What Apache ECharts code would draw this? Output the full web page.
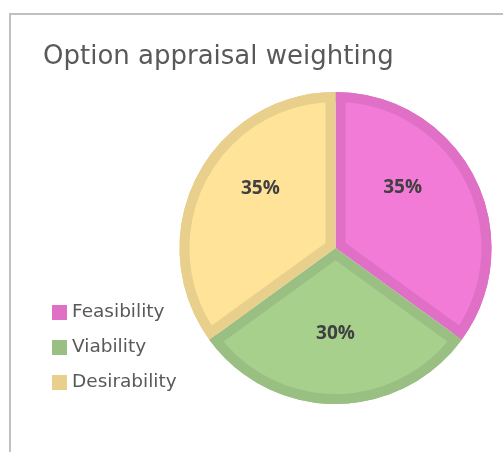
<!DOCTYPE html>
<html>
<head>
<meta charset="utf-8">
<script src="https://cdn.jsdelivr.net/npm/echarts@6/dist/echarts.min.js"></script>
<style>
html,body{margin:0;padding:0;background:#fff;}
#chart{width:503px;height:452px;}
</style>
</head>
<body>
<div id="chart"></div>
<script>
// ---- data ----
const categories = ['Feasibility', 'Viability', 'Desirability'];
const values = [35, 30, 35];
const titleText = 'Option appraisal weighting';

// ---- styles ----
const fillColors = ['#F27BD8', '#A8D08D', '#FFE399'];
const edgeColors = ['#DF70C6', '#99BF82', '#E8CF8B'];
const CX = 335.5, CY = 248, R = 156, EDGE = 10;

const total = values.reduce((a, b) => a + b, 0);
const chart = echarts.init(document.getElementById('chart'), null, {renderer: 'canvas'});

const series = [];
// base: full pie in edge colours
series.push({
  type: 'pie', center: [CX, CY], radius: R, startAngle: 90, clockwise: true,
  silent: true, label: {show: false}, labelLine: {show: false},
  emphasis: {disabled: true},
  data: categories.map((c, i) => ({name: c, value: values[i], itemStyle: {color: edgeColors[i]}}))
});
// inset light slices: one series per slice, centre shifted along bisector
let acc = 0;
categories.forEach((c, i) => {
  const span = values[i] / total * 360;
  const start = 90 - acc / total * 360;
  const bis = (start - span / 2) * Math.PI / 180;
  const off = EDGE / Math.sin(span / 2 * Math.PI / 180);
  acc += values[i];
  series.push({
    type: 'pie', center: [CX + off * Math.cos(bis), CY - off * Math.sin(bis)],
    radius: R - off - 2, startAngle: 90, clockwise: true,
    silent: true, label: {show: false}, labelLine: {show: false},
    emphasis: {disabled: true},
    data: categories.map((cc, j) => ({
      name: cc, value: values[j],
      itemStyle: {color: j === i ? fillColors[j] : 'rgba(0,0,0,0)'}
    }))
  });
});
// outer ring in edge colours
series.push({
  type: 'pie', center: [CX, CY], radius: [R - EDGE, R], startAngle: 90, clockwise: true,
  silent: true, label: {show: false}, labelLine: {show: false},
  emphasis: {disabled: true},
  data: categories.map((c, i) => ({name: c, value: values[i], itemStyle: {color: edgeColors[i]}}))
});
// labels
const labelShift = [[-5, -24], [0, 5], [-3, -23]];
series.push({
  type: 'pie', center: [CX, CY], radius: R, startAngle: 90, clockwise: true,
  silent: true, emphasis: {disabled: true},
  itemStyle: {color: 'rgba(0,0,0,0)'},
  label: {
    show: true, position: 'inside',
    formatter: p => Math.round(p.value / total * 100) + '%',
    fontFamily: 'Open Sans', fontWeight: 'bold', fontSize: 19, color: '#404040'
  },
  labelLine: {show: false},
  labelLayout: p => ({dx: labelShift[p.dataIndex][0], dy: labelShift[p.dataIndex][1]}),
  data: categories.map((c, i) => ({name: c, value: values[i]}))
});

chart.setOption({
  animation: false,
  backgroundColor: '#ffffff',
  title: {
    text: titleText, left: 43, top: 44, padding: 0,
    textStyle: {fontFamily: 'DejaVu Sans', fontWeight: 'normal', fontSize: 26, color: '#595959'}
  },
  legend: {
    orient: 'vertical', left: 52, top: 303, padding: 0,
    itemWidth: 15, itemHeight: 15, itemGap: 16,
    icon: 'rect', itemStyle: {borderWidth: 0},
    data: categories,
    textStyle: {fontFamily: 'DejaVu Sans', fontSize: 18.5, color: '#595959'},
    selectedMode: false
  },
  graphic: [{
    type: 'rect', silent: true,
    shape: {x: 10, y: 14, width: 600, height: 600},
    style: {fill: 'none', stroke: '#c0c0c0', lineWidth: 2}
  }],
  series: series
});
</script>
</body>
</html>
